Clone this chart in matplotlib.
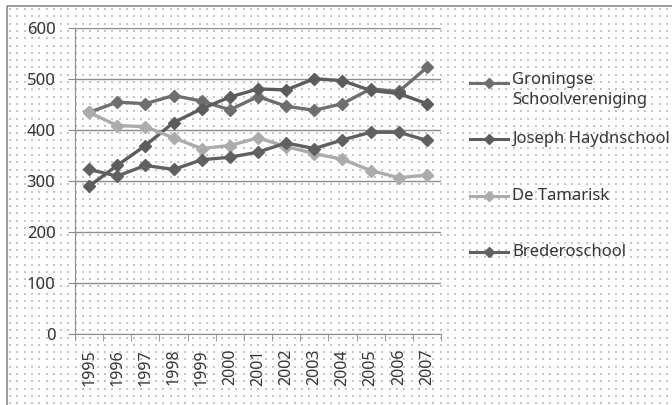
# Lijngrafiek leerlingenaantallen per school
import numpy as np
import matplotlib
matplotlib.use("Agg")
import matplotlib.pyplot as plt
from matplotlib.lines import Line2D
from matplotlib.patches import Rectangle

plt.rcParams['font.family'] = ['Noto Sans', 'DejaVu Sans']

# Data
jaren = ['1995', '1996', '1997', '1998', '1999', '2000', '2001',
         '2002', '2003', '2004', '2005', '2006', '2007']
groningse = [434, 454, 451, 467, 456, 439, 465, 446, 438, 451, 480, 475, 522]
haydn = [289, 330, 369, 414, 441, 464, 480, 478, 500, 496, 477, 471, 451]
tamarisk = [434, 408, 406, 384, 363, 369, 384, 367, 353, 342, 320, 306, 311]
bredero = [322, 309, 330, 322, 341, 346, 356, 374, 363, 380, 395, 395, 379]

namen = ['Groningse\nSchoolvereniging', 'Joseph Haydnschool', 'De Tamarisk', 'Brederoschool']
reeksen = [groningse, haydn, tamarisk, bredero]
kleuren = ['#6e6e6e', '#5c5c5c', '#ababab', '#606060']

W, H = 672, 405
fig = plt.figure(figsize=(W / 100, H / 100), dpi=100)

# Achtergrond met stippen
ax_bg = fig.add_axes([0, 0, 1, 1], zorder=-5)
ax_bg.set_xlim(0, W)
ax_bg.set_ylim(H, 0)
ax_bg.axis('off')
gx, gy = np.meshgrid(np.arange(10, W, 7.3), np.arange(9, H, 7.3))
ax_bg.scatter(gx.ravel(), gy.ravel(), s=0.8, marker='s', color='#c4c4c4', linewidths=0)
ax_bg.add_patch(Rectangle((7, 6), W, H, fill=False, edgecolor='#8a8a8a', lw=1.2))

# Grafiek
ax = fig.add_axes([75 / W, 1 - 333.7 / H, 366 / W, (333.7 - 27.7) / H])
ax.patch.set_alpha(0)
x = np.arange(len(jaren))
for serie, kleur in zip(reeksen, kleuren):
    ax.plot(x, serie, color=kleur, lw=2.4, marker='D', markersize=6,
            markerfacecolor=kleur, markeredgecolor=kleur, zorder=3)

ax.set_xlim(-0.5, len(jaren) - 0.5)
ax.set_ylim(0, 600)
ax.set_yticks(range(0, 601, 100))
ax.set_xticks(x)
ax.set_xticklabels(jaren, rotation=90)
ax.set_xticks(np.arange(-0.5, len(jaren)), minor=True)
ax.tick_params(axis='x', which='major', length=0, pad=11, labelsize=11.5, labelcolor='#333333')
ax.tick_params(axis='x', which='minor', length=5, color='#8a8a8a', direction='out')
ax.tick_params(axis='y', length=5, color='#8a8a8a', pad=9, labelsize=12, labelcolor='#333333')
ax.grid(axis='y', color='#8c8c8c', lw=1)
for s in ['top', 'right']:
    ax.spines[s].set_visible(False)
for s in ['left', 'bottom']:
    ax.spines[s].set_color('#8a8a8a')
ax.set_axisbelow(True)

# Legenda
leg_y = [83, 139, 196, 252]
for naam, kleur, yy in zip(namen, kleuren, leg_y):
    fy = 1 - yy / H
    fig.add_artist(Line2D([470 / W, 508 / W], [fy, fy], color=kleur, lw=2.2))
    fig.add_artist(Line2D([489 / W], [fy], color=kleur, marker='D', markersize=5))
    if '\n' in naam:
        fig.text(512 / W, 1 - (yy - 11) / H, naam, va='top', ha='left',
                 fontsize=12, color='#333333', linespacing=1.35)
    else:
        fig.text(512 / W, fy, naam, va='center', ha='left', fontsize=12, color='#333333')

fig.savefig('out.png', dpi=100)
